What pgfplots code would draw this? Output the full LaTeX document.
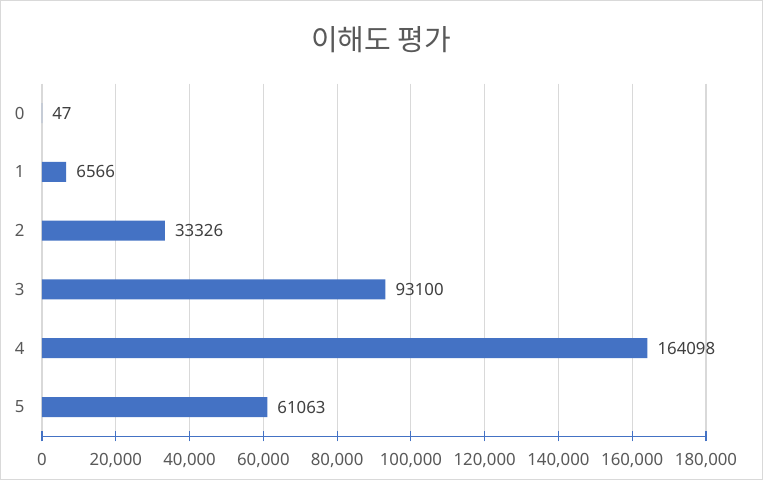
\documentclass[border=0pt]{standalone}
\usepackage{fontspec}
\setmainfont{Noto Sans}
\newfontfamily\kr{Noto Sans CJK KR}
\usepackage{pgfplots}
\pgfplotsset{compat=1.18}
\definecolor{barblue}{HTML}{4472C4}
\definecolor{gridgray}{HTML}{D9D9D9}
\definecolor{ticktext}{HTML}{595959}
\definecolor{labtext}{HTML}{404040}
\begin{document}
\begin{tikzpicture}[x=1pt,y=1pt]
\useasboundingbox (0,0) rectangle (763,480);
\fill[white] (0,0) rectangle (763,480);
\draw[gridgray, line width=1.2pt] (0.6,0.6) rectangle (762.4,479.4);
\node[font=\kr\fontsize{29}{34}\selectfont, text=ticktext] at (381,440) {이해도 평가};
\begin{axis}[
  at={(42pt,43.6pt)}, anchor=south west, scale only axis,
  width=664pt, height=352.8pt,
  xbar, bar width=20pt,
  xmin=0, xmax=180000, ymin=-0.5, ymax=5.5, y dir=reverse,
  ytick={0,1,2,3,4,5},
  xtick={0,20000,40000,60000,80000,100000,120000,140000,160000,180000},
  axis x line*=bottom, axis y line*=left,
  x axis line style={draw=barblue, line width=1.2pt, -},
  y axis line style={draw=none},
  xtick style={draw=barblue, line width=1.2pt},
  ytick style={draw=none},
  tick align=center, major tick length=10pt,
  xmajorgrids, grid style={gridgray, line width=1.2pt},
  scaled x ticks=false,
  /pgf/number format/assume math mode=true,
  /pgf/number format/fixed,
  xticklabel style={font=\fontsize{16.8}{20}\selectfont, text=ticktext, yshift=-8pt, /pgf/number format/fixed, /pgf/number format/1000 sep={,}},
  yticklabel style={font=\fontsize{16.8}{20}\selectfont, text=ticktext, xshift=-9pt},
  point meta=x,
  nodes near coords={\pgfmathprintnumber[fixed, precision=0, 1000 sep={}]{\pgfplotspointmeta}},
  nodes near coords style={font=\fontsize{16.8}{20}\selectfont, text=labtext, anchor=west, inner sep=0pt, xshift=10pt},
]
\addplot[fill=barblue, draw=none] coordinates {
  (47,0) (6566,1) (33326,2) (93100,3) (164098,4) (61063,5)
};
\end{axis}
\end{tikzpicture}
\end{document}
